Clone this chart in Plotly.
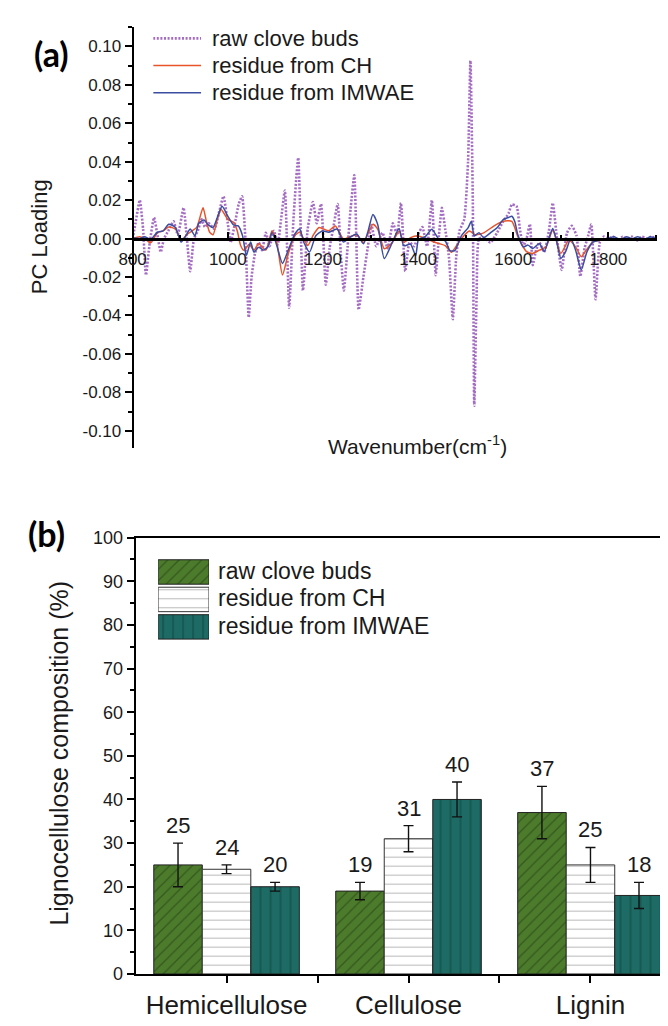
import plotly.graph_objects as go

W, H = 668, 1026
OFF = 8  # page body margin in the rendered html


def px(x):
    return (x - OFF) / W


def py(y):
    return 1 - (y - OFF) / H


# ---------------- Panel (a) data: PC loadings ----------------
raw_x = [800, 806, 815, 822, 828, 836, 845, 852, 859, 866, 875, 886, 895, 907, 914, 921, 929,
         937, 945, 952, 960, 972, 982, 991, 1000, 1006, 1015, 1023, 1030, 1037, 1044, 1050,
         1057, 1065, 1072, 1080, 1088, 1097, 1105, 1112, 1120, 1129, 1138, 1148, 1158, 1168,
         1179, 1187, 1196, 1206, 1214, 1222, 1231, 1238, 1244, 1252, 1258, 1266, 1275, 1285,
         1294, 1302, 1312, 1325, 1336, 1347, 1356, 1364, 1373, 1382, 1392, 1400, 1409, 1419,
         1429, 1437, 1444, 1450, 1457, 1465, 1473, 1480, 1487, 1497, 1505, 1510, 1515, 1518,
         1523, 1528, 1538, 1552, 1566, 1579, 1590, 1597, 1607, 1614, 1621, 1628, 1635, 1641,
         1648, 1655, 1665, 1675, 1683, 1692, 1702, 1713, 1723, 1733, 1741, 1750, 1758, 1764,
         1773, 1782, 1790, 1800, 1810, 1820, 1830, 1840, 1850, 1860, 1870, 1880, 1890, 1900]
raw_y = [0.000, 0.008, 0.020, 0.005, -0.019, -0.002, 0.011, 0.002, -0.007, 0.000, 0.004, 0.009,
         0.002, 0.016, 0.000, -0.017, 0.000, 0.004, 0.010, 0.006, 0.008, 0.005, 0.014, 0.022,
         0.008, -0.002, 0.008, 0.018, 0.022, 0.000, -0.041, -0.020, -0.008, -0.002, -0.006,
         0.003, -0.004, 0.004, -0.003, 0.010, 0.025, -0.036, 0.010, 0.042, -0.027, 0.005,
         0.019, 0.008, 0.018, -0.024, -0.005, 0.006, 0.018, -0.010, -0.027, -0.004, 0.015,
         0.033, -0.037, -0.020, -0.005, 0.007, -0.004, 0.003, -0.005, 0.008, 0.002, 0.0185,
         -0.017, -0.002, -0.004, 0.002, 0.006, -0.004, 0.020, -0.019, 0.002, 0.016, 0.005,
         -0.010, -0.042, -0.010, 0.004, 0.010, 0.040, 0.0925, 0.020, -0.087, -0.030, 0.000,
         0.0005, -0.002, 0.003, 0.009, 0.013, 0.0177, 0.0168, 0.005, -0.004, 0.000, 0.0075,
         -0.0138, -0.006, -0.002, -0.007, 0.004, 0.0185, 0.000, -0.0163, 0.003, 0.0066,
         0.0015, -0.0197, -0.005, 0.002, 0.0075, -0.0316, -0.002, 0.001, 0.000, 0.001,
         -0.001, 0.001, 0.000, 0.001, -0.001, 0.001, 0.000, 0.001, 0.000]

ch_x = [800, 815, 825, 838, 852, 864, 876, 890, 902, 914, 925, 935, 948, 955, 962, 969, 978,
        986, 1000, 1013, 1020, 1027, 1034, 1045, 1055, 1065, 1080, 1093, 1103, 1115, 1127,
        1141, 1151, 1168, 1180, 1192, 1212, 1226, 1243, 1257, 1271, 1285, 1305, 1315, 1329,
        1346, 1360, 1370, 1384, 1401, 1415, 1436, 1457, 1470, 1480, 1491, 1508, 1520, 1538,
        1559, 1579, 1597, 1610, 1628, 1641, 1655, 1669, 1683, 1700, 1717, 1731, 1743, 1751,
        1768, 1785, 1800]
ch_y = [0.000, 0.001, 0.000, -0.0022, 0.003, 0.004, 0.006, 0.005, -0.001, 0.002, 0.004, 0.006,
        0.016, 0.009, 0.0033, 0.002, 0.010, 0.0151, 0.010, 0.0083, 0.004, -0.0036, -0.0061,
        -0.003, -0.006, -0.0027, -0.006, 0.0041, -0.002, -0.0189, -0.008, 0.0015, 0.0033,
        -0.0036, 0.002, 0.0058, 0.0041, 0.0066, -0.0002, 0.001, 0.002, -0.002, 0.0075, 0.005,
        -0.0053, -0.002, 0.004, -0.002, 0.0005, 0.0014, 0.000, -0.002, -0.0037, -0.0071,
        -0.004, 0.000, 0.004, 0.002, 0.003, 0.0065, 0.009, 0.009, 0.0009, -0.0068, -0.0077,
        -0.006, -0.0043, 0.0043, -0.0077, -0.0009, -0.0043, -0.0094, -0.0068, -0.0017,
        -0.0008, 0.000]

imwae_x = [800, 804, 815, 825, 838, 852, 864, 876, 890, 902, 914, 921, 931, 939, 950, 959, 969,
           978, 988, 1000, 1012, 1022, 1031, 1039, 1048, 1055, 1065, 1075, 1085, 1093, 1103,
           1115, 1127, 1141, 1151, 1160, 1172, 1185, 1199, 1212, 1230, 1243, 1257, 1271, 1285,
           1295, 1305, 1315, 1329, 1346, 1360, 1370, 1384, 1395, 1401, 1415, 1429, 1443, 1457,
           1467, 1477, 1491, 1505, 1512, 1518, 1528, 1538, 1552, 1566, 1579, 1590, 1597, 1603,
           1610, 1621, 1631, 1641, 1655, 1665, 1676, 1683, 1690, 1700, 1710, 1721, 1731, 1743,
           1755, 1768, 1785, 1799, 1812, 1825, 1838, 1850, 1862, 1875, 1888, 1900]
imwae_y = [0.000, 0.0003, 0.000, 0.001, -0.0005, 0.0033, 0.004, 0.0075, 0.0058, -0.0018, 0.0024,
           0.005, 0.0015, 0.008, 0.0097, 0.0071, 0.0058, 0.011, 0.0168, 0.0117, 0.0071, 0.0066,
           0.0015, -0.0087, -0.0018, -0.007, -0.0045, -0.006, -0.004, 0.0033, -0.0036, -0.0129,
           -0.0061, 0.0024, 0.005, -0.002, -0.007, 0.0015, 0.004, 0.0033, 0.005, -0.0018,
           0.0007, 0.0024, -0.0027, 0.004, 0.0126, 0.0075, -0.0104, -0.0018, 0.0052, -0.0037,
           -0.0029, -0.0088, -0.0003, 0.001, 0.0048, 0.000, -0.0012, -0.0063, -0.0063, 0.0014,
           0.0056, 0.009, 0.0014, 0.003, 0.0005, 0.003, 0.0056, 0.0099, 0.011, 0.0116, 0.009,
           0.0017, -0.0043, -0.0034, -0.0051, -0.0026, -0.0068, 0.0009, 0.0052, 0.000, -0.0102,
           -0.0068, 0.000, -0.006, -0.0162, -0.0068, -0.0017, -0.0008, 0.000, 0.001, -0.0005,
           0.001, 0.000, 0.001, -0.0005, 0.001, 0.000]

series_names = ["raw clove buds", "residue from CH", "residue from IMWAE"]

a_ytick_vals = [-0.10, -0.08, -0.06, -0.04, -0.02, 0.00, 0.02, 0.04, 0.06, 0.08, 0.10]
a_ytick_text = ["-0.10", "-0.08", "-0.06", "-0.04", "-0.02", "0.00", "0.02", "0.04", "0.06",
                "0.08", "0.10"]
a_xtick_vals = [800, 1000, 1200, 1400, 1600, 1800]

# ---------------- Panel (b) data: composition ----------------
categories = ["Hemicellulose", "Cellulose", "Lignin"]
raw_vals = [25, 19, 37]
raw_err = [5, 2, 6]
ch_vals = [24, 31, 25]
ch_err = [1, 3, 4]
imwae_vals = [20, 40, 18]
imwae_err = [1, 4, 3]
b_ytick_vals = [0, 10, 20, 30, 40, 50, 60, 70, 80, 90, 100]

# styles
C_RAW_LINE = "#a46cc2"
C_CH_LINE = "#e8532b"
C_IM_LINE = "#3a4da0"
GREEN = "#4c7b2c"
GREEN_FG = "#1c3510"
TEAL = "#1d6b64"
TEAL_FG = "#0a2e2a"
TXT = "#1a1a1a"
FONT = "Liberation Sans, Arial, sans-serif"

bar_styles = [
    dict(color=GREEN, pattern=dict(shape="/", fgcolor=GREEN_FG, size=8, solidity=0.16,
                                   fillmode="overlay"), line=dict(color="#222", width=1)),
    dict(color="white", pattern=dict(shape="-", fgcolor="#7a7a7a", size=9, solidity=0.12,
                                     fillmode="overlay"), line=dict(color="#333", width=1)),
    dict(color=TEAL, pattern=dict(shape="|", fgcolor=TEAL_FG, size=10, solidity=0.12,
                                  fillmode="overlay"), line=dict(color="#222", width=1)),
]

fig = go.Figure()

# ---- panel (a) traces ----
line_styles = [dict(color=C_RAW_LINE, width=2.6, dash="2px,1.6px", shape="spline",
                    smoothing=0.5),
               dict(color=C_CH_LINE, width=1.5, shape="spline", smoothing=0.6),
               dict(color=C_IM_LINE, width=1.5, shape="spline", smoothing=0.6)]
for xs, ys, st, nm in zip([raw_x, ch_x, imwae_x], [raw_y, ch_y, imwae_y], line_styles,
                          series_names):
    fig.add_trace(go.Scatter(x=xs, y=ys, mode="lines", line=st, name=nm, showlegend=False,
                             xaxis="x", yaxis="y"))

# ---- panel (a) legend keys (drawn on a hidden helper axis) ----
for i, (st, nm) in enumerate(zip(line_styles, series_names)):
    key = dict(st)
    key.pop("shape", None)
    key.pop("smoothing", None)
    fig.add_trace(go.Scatter(x=[0, 1], y=[i, i], mode="lines", line=key, showlegend=False,
                             xaxis="x4", yaxis="y4", hoverinfo="skip"))

# ---- panel (b) bars ----
xcat = list(range(len(categories)))
for vals, errs, st, nm in zip([raw_vals, ch_vals, imwae_vals], [raw_err, ch_err, imwae_err],
                              bar_styles, series_names):
    fig.add_trace(go.Bar(x=xcat, y=vals, name=nm, marker=st, showlegend=False,
                         error_y=dict(type="data", array=errs, color="#111", thickness=1.4,
                                      width=5),
                         xaxis="x2", yaxis="y2"))

# ---- panel (b) legend patches (hidden helper axis) ----
for i, (st, nm) in enumerate(zip(bar_styles, series_names)):
    fig.add_trace(go.Bar(x=[1], y=[i], orientation="h", width=0.89, marker=st,
                         showlegend=False, xaxis="x3", yaxis="y3", hoverinfo="skip"))

annotations = []
# value labels above error bars
bargap = 0.2
n = 3
bw = (1 - bargap) / n
for j, (vals, errs) in enumerate(zip([raw_vals, ch_vals, imwae_vals],
                                     [raw_err, ch_err, imwae_err])):
    for i, (v, e) in enumerate(zip(vals, errs)):
        annotations.append(dict(x=i + (j - (n - 1) / 2) * bw, y=v + e, xref="x2", yref="y2",
                                text=str(v), showarrow=False, xanchor="center",
                                yanchor="bottom", yshift=3,
                                font=dict(size=22, color=TXT, family=FONT)))

# legend texts
for i, nm in enumerate(series_names):
    annotations.append(dict(x=px(200), y=py(29 + 27.5 * i), xref="paper", yref="paper",
                            text=nm, showarrow=False, xanchor="left", yanchor="middle",
                            font=dict(size=22, color=TXT, family=FONT)))
    annotations.append(dict(x=px(206), y=py(572 + 28 * i), xref="paper", yref="paper",
                            text=nm, showarrow=False, xanchor="left", yanchor="middle",
                            font=dict(size=23, color=TXT, family=FONT)))

# titles and panel labels
annotations += [
    dict(x=px(26), y=py(231), xref="paper", yref="paper", text="PC Loading", textangle=-90,
         showarrow=False, xanchor="center", yanchor="middle",
         font=dict(size=22, color=TXT, family=FONT)),
    dict(x=px(412), y=py(443), xref="paper", yref="paper", text="Wavenumber(cm<sup>-1</sup>)",
         showarrow=False, xanchor="center", yanchor="middle",
         font=dict(size=21, color=TXT, family=FONT)),
    dict(x=px(46), y=py(758), xref="paper", yref="paper",
         text="Lignocellulose composition (%)", textangle=-90, showarrow=False,
         xanchor="center", yanchor="middle", font=dict(size=25, color=TXT, family=FONT)),
    dict(x=px(38), y=py(44), xref="paper", yref="paper", text="<b>(a)</b>", showarrow=False,
         xanchor="center", yanchor="middle",
         font=dict(size=34, color="#000", family="Lato, Open Sans, sans-serif")),
    dict(x=px(33), y=py(534), xref="paper", yref="paper", text="<b>(b)</b>", showarrow=False,
         xanchor="center", yanchor="middle",
         font=dict(size=34, color="#000", family="Lato, Open Sans, sans-serif")),
]

axis_font = dict(family=FONT, color=TXT)

fig.update_layout(
    width=W, height=H, margin=dict(l=0, r=0, t=0, b=0),
    paper_bgcolor="white", plot_bgcolor="rgba(0,0,0,0)",
    barmode="group", bargap=bargap, bargroupgap=0,
    showlegend=False,
    annotations=annotations,
    xaxis=dict(domain=[px(121), px(657)], range=[800, 1903], anchor="free", position=py(233),
               showline=True, linecolor="#000", linewidth=2.5, ticks="inside", ticklen=6,
               tickwidth=1.5, tickcolor="#000", tickvals=a_xtick_vals,
               ticktext=[str(v) for v in a_xtick_vals], tickfont=dict(size=17, **axis_font),
               showgrid=False, zeroline=False, ticklabelstandoff=4,
               minor=dict(ticks="inside", ticklen=3, tickmode="linear", tick0=800, dtick=100,
                          tickcolor="#000")),
    yaxis=dict(domain=[py(447), py(17)], range=[-0.1092, 0.1102], anchor="free",
               position=px(121), showline=True, linecolor="#000", linewidth=2, ticks="outside",
               ticklen=7, tickwidth=1.5, tickcolor="#000", tickvals=a_ytick_vals,
               ticktext=a_ytick_text, tickfont=dict(size=17, **axis_font), showgrid=False,
               zeroline=False,
               minor=dict(ticks="outside", ticklen=4, tickmode="linear", tick0=0, dtick=0.01,
                          tickcolor="#000")),
    xaxis2=dict(domain=[px(124), 1.0], range=[-0.5, 2.47], anchor="y2", showline=True,
                mirror=True, linecolor="#000", linewidth=2, ticks="outside", ticklen=7,
                tickwidth=1.5, tickcolor="#000", tickvals=xcat, ticktext=categories,
                tickfont=dict(size=26, **axis_font), showgrid=False, zeroline=False,
                minor=dict(ticks="outside", ticklen=7, tickwidth=1.5, tickmode="array",
                           tickvals=[0.5, 1.5], tickcolor="#000")),
    yaxis2=dict(domain=[py(983), py(538)], range=[0, 100], anchor="x2", showline=True,
                linecolor="#000", linewidth=2, ticks="outside", ticklen=7, tickwidth=1.5,
                tickcolor="#000", tickvals=b_ytick_vals, tickfont=dict(size=18, **axis_font),
                showgrid=False, zeroline=False,
                minor=dict(ticks="outside", ticklen=4, tickmode="linear", tick0=0, dtick=5,
                           tickcolor="#000")),
    xaxis3=dict(domain=[px(147), px(199)], range=[0, 1], anchor="y3", visible=False,
                fixedrange=True),
    yaxis3=dict(domain=[py(643), py(559)], range=[2.5, -0.5], anchor="x3", visible=False,
                fixedrange=True),
    xaxis4=dict(domain=[px(142), px(191)], range=[0, 1], anchor="y4", visible=False,
                fixedrange=True),
    yaxis4=dict(domain=[py(98), py(15)], range=[2.5, -0.5], anchor="x4", visible=False,
                fixedrange=True),
)

fig.write_html("out.html")
